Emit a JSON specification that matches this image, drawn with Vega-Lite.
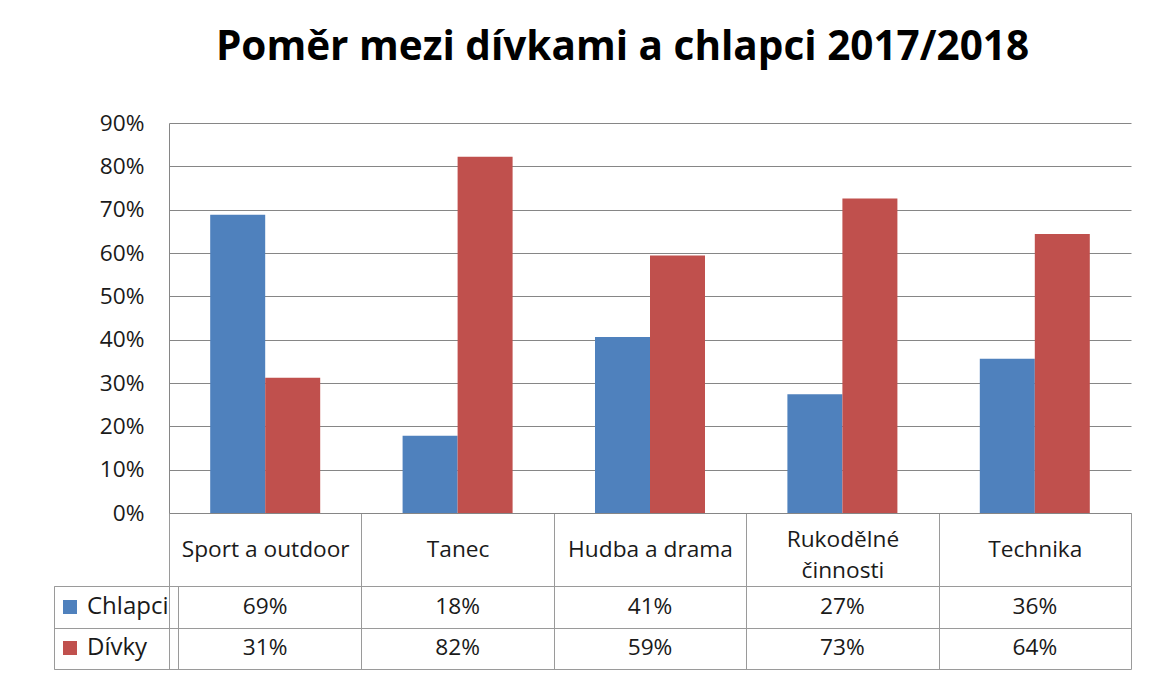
{
  "$schema": "https://vega.github.io/schema/vega-lite/v6.json",
  "padding": {"left": 53, "top": 27, "right": 17, "bottom": 5},
  "background": "white",
  "title": {
    "text": "Poměr mezi dívkami a chlapci 2017/2018",
    "font": "Open Sans",
    "fontSize": 40.5,
    "fontWeight": "bold",
    "color": "#000000",
    "anchor": "middle",
    "dx": 30,
    "offset": 44
  },
  "data": {
    "values": [
      {"category": "Sport a outdoor", "series": "Chlapci", "value": 0.688},
      {"category": "Sport a outdoor", "series": "Dívky", "value": 0.312},
      {"category": "Tanec", "series": "Chlapci", "value": 0.178},
      {"category": "Tanec", "series": "Dívky", "value": 0.822},
      {"category": "Hudba a drama", "series": "Chlapci", "value": 0.406},
      {"category": "Hudba a drama", "series": "Dívky", "value": 0.594},
      {"category": "Rukodělné činnosti", "series": "Chlapci", "value": 0.274},
      {"category": "Rukodělné činnosti", "series": "Dívky", "value": 0.726},
      {"category": "Technika", "series": "Chlapci", "value": 0.356},
      {"category": "Technika", "series": "Dívky", "value": 0.644}
    ]
  },
  "bounds": "flush",
  "spacing": 73,
  "resolve": {"scale": {"x": "independent", "y": "independent", "color": "independent"}, "legend": {"color": "independent"}},
  "vconcat": [
    {
      "width": 962,
      "height": 390,
      "mark": {"type": "bar"},
      "encoding": {
        "x": {
          "field": "category",
          "type": "nominal",
          "sort": null,
          "scale": {"paddingInner": 0, "paddingOuter": 0},
          "axis": {
            "title": null,
            "labelAngle": 0,
            "labelFont": "Open Sans",
            "labelFontSize": 22.7,
            "labelColor": "#1a1a1a",
            "labelPadding": {"condition": {"test": "datum.value == 'Rukodělné činnosti'", "value": -47}, "value": -37},
            "labelBaseline": "middle",
            "labelLineHeight": 31,
            "labelLimit": 200,
            "labelExpr": "datum.label == 'Rukodělné činnosti' ? ['Rukodělné', 'činnosti'] : datum.label",
            "ticks": true,
            "tickBand": "extent",
            "tickSize": 73,
            "tickColor": "#9a9a9a",
            "domain": true,
            "domainColor": "#868686"
          }
        },
        "xOffset": {
          "field": "series",
          "type": "nominal",
          "sort": ["Chlapci", "Dívky"],
          "scale": {"paddingInner": 0, "paddingOuter": 0.749}
        },
        "y": {
          "field": "value",
          "type": "quantitative",
          "scale": {"domain": [0, 0.9], "nice": false},
          "axis": {
            "title": null,
            "format": ".0%",
            "values": [0, 0.1, 0.2, 0.3, 0.4, 0.5, 0.6, 0.7, 0.8, 0.9],
            "labelFont": "Open Sans",
            "labelFontSize": 22.7,
            "labelColor": "#1a1a1a",
            "labelPadding": 25,
            "ticks": false,
            "grid": true,
            "gridColor": "#868686",
            "domain": true,
            "domainColor": "#868686"
          }
        },
        "color": {
          "field": "series",
          "type": "nominal",
          "sort": ["Chlapci", "Dívky"],
          "scale": {"domain": ["Chlapci", "Dívky"], "range": ["#4F81BD", "#C0504D"]},
          "legend": {
            "title": null,
            "orient": "none",
            "legendX": -115,
            "legendY": 463,
            "symbolType": "square",
            "symbolSize": 196,
            "symbolStrokeWidth": 0,
            "symbolOffset": -5,
            "labelFont": "Open Sans",
            "labelFontSize": 24,
            "labelColor": "#1a1a1a",
            "labelOffset": 5,
            "padding": 9,
            "rowPadding": 17,
            "strokeColor": "#9a9a9a"
          }
        }
      }
    },
    {
      "width": 962,
      "height": 83,
      "mark": {"type": "text", "font": "Open Sans", "fontSize": 22.7, "color": "#1a1a1a"},
      "encoding": {
        "x": {
          "field": "category",
          "type": "nominal",
          "sort": null,
          "scale": {"paddingInner": 0, "paddingOuter": 0},
          "axis": {
            "title": null,
            "labels": false,
            "ticks": false,
            "domain": false,
            "grid": true,
            "tickBand": "extent",
            "gridColor": "#9a9a9a"
          }
        },
        "y": {
          "field": "series",
          "type": "nominal",
          "sort": ["Chlapci", "Dívky"],
          "scale": {"paddingInner": 0, "paddingOuter": 0},
          "axis": {
            "title": null,
            "labels": false,
            "ticks": true,
            "tickSize": 115,
            "tickColor": "#9a9a9a",
            "tickBand": "extent",
            "domain": false,
            "grid": true,
            "gridColor": "#9a9a9a"
          }
        },
        "text": {"field": "value", "type": "quantitative", "format": ".0%"}
      }
    }
  ],
  "config": {
    "view": {"stroke": null},
    "axis": {"gridOpacity": 1}
  }
}
